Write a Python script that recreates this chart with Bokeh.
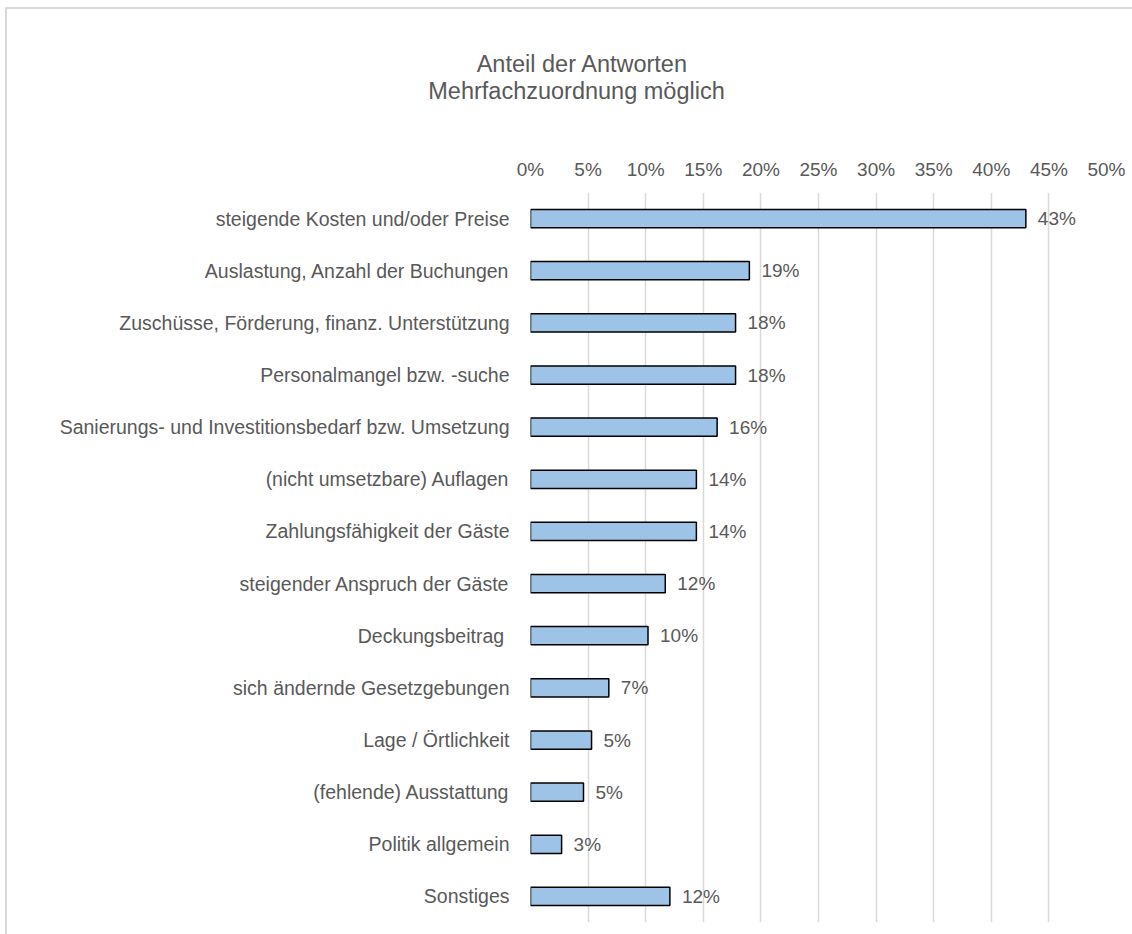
from bokeh.plotting import figure
from bokeh.models import ColumnDataSource, FactorRange, FixedTicker, Range1d
from bokeh.layouts import column
from bokeh.embed import file_html
from bokeh.resources import INLINE
from bokeh.core.properties import value

categories = [
    "steigende Kosten und/oder Preise",
    "Auslastung, Anzahl der Buchungen",
    "Zuschüsse, Förderung, finanz. Unterstützung",
    "Personalmangel bzw. -suche",
    "Sanierungs- und Investitionsbedarf bzw. Umsetzung",
    "(nicht umsetzbare) Auflagen",
    "Zahlungsfähigkeit der Gäste",
    "steigender Anspruch der Gäste",
    "Deckungsbeitrag ",
    "sich ändernde Gesetzgebungen",
    "Lage / Örtlichkeit",
    "(fehlende) Ausstattung",
    "Politik allgemein",
    "Sonstiges",
]
values = [43.0, 19.0, 17.8, 17.8, 16.2, 14.4, 14.4, 11.7, 10.2, 6.8, 5.3, 4.6, 2.7, 12.1]
value_labels = ["43%", "19%", "18%", "18%", "16%", "14%", "14%", "12%", "10%", "7%", "5%", "5%", "3%", "12%"]
tick_values = [0, 5, 10, 15, 20, 25, 30, 35, 40, 45, 50]
tick_labels = ["0%", "5%", "10%", "15%", "20%", "25%", "30%", "35%", "40%", "45%", "50%"]
title_lines = ["Anteil der Antworten", "Mehrfachzuordnung möglich"]

FONT = "Liberation Sans"
GRAY = "#595959"
W = 1125
TITLE_H = 110

# ---- title strip (its own small figure, not frame-aligned with the chart) ----
tf = figure(width=W, height=TITLE_H, x_range=Range1d(0, W), y_range=Range1d(TITLE_H, 0),
            x_axis_type=None, y_axis_type=None, output_backend="svg", toolbar_location=None,
            min_border=0)
tf.frame_align = False
tf.outline_line_color = None
tf.grid.visible = False
tf.border_fill_color = "white"
tf.text(x=[575, 569], y=[54, 81], text=title_lines, text_align="center", text_baseline="middle",
        text_font=value(FONT), text_font_size="23.5px", text_color=GRAY)

# ---- main chart ----
source = ColumnDataSource(dict(cat=categories, val=values, lab=value_labels))

p = figure(
    width=W, height=925 - TITLE_H,
    y_range=FactorRange(factors=list(reversed(categories)), range_padding=0),
    x_range=(0, 50),
    x_axis_location="above",
    output_backend="svg", toolbar_location=None,
    min_border_left=523, min_border_right=26, min_border_top=183 - TITLE_H, min_border_bottom=12,
)
p.frame_align = False
p.outline_line_color = None
p.background_fill_color = "white"
p.border_fill_color = "white"

p.hbar(y="cat", right="val", left=0, height=0.35, source=source,
       fill_color="#9dc3e6", line_color="black", line_width=1.5)

p.text(x="val", y="cat", text="lab", source=source, x_offset=12,
       text_baseline="middle", text_align="left",
       text_font=value(FONT), text_font_size="19px", text_color=GRAY)

xa = p.xaxis[0]
xa.ticker = FixedTicker(ticks=tick_values)
xa.major_label_overrides = {t: l for t, l in zip(tick_values, tick_labels)}
xa.axis_line_color = None
xa.major_tick_line_color = None
xa.minor_tick_line_color = None
xa.major_label_standoff = 7
xa.major_label_text_font = FONT
xa.major_label_text_font_size = "19px"
xa.major_label_text_color = GRAY

ya = p.yaxis[0]
ya.axis_line_color = None
ya.major_tick_line_color = None
ya.minor_tick_line_color = None
ya.major_label_standoff = 15
ya.major_label_text_font = FONT
ya.major_label_text_font_size = "19.5px"
ya.major_label_text_color = GRAY

p.xgrid.ticker = FixedTicker(ticks=tick_values)
p.xgrid.grid_line_color = "#d9d9d9"
p.xgrid.grid_line_width = 1.5
p.ygrid.grid_line_color = None

layout = column(tf, p, spacing=0)
layout.styles = {"margin-left": "5px", "margin-top": "7px",
                 "border-left": "2px solid #d9d9d9", "border-top": "2px solid #d9d9d9"}

open("out.html", "w").write(file_html(layout, INLINE))
